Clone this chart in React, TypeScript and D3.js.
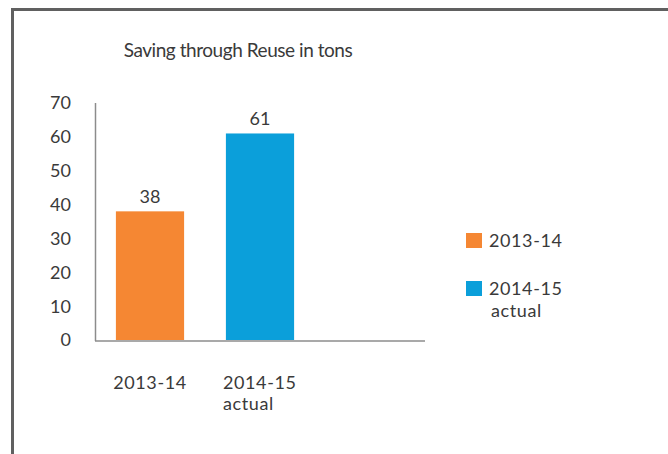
import React from "react";
import * as d3 from "d3";

const categories = ["2013-14", "2014-15 actual", ""];
const values = [38, 61, null];
const colors = ["#F58733", "#0B9FDA"];
const legendLabels = [["2013-14"], ["2014-15", "actual"]];
const xLabels = [["2013-14"], ["2014-15", "actual"], []];
const yTicks = [0, 10, 20, 30, 40, 50, 60, 70];
const title = "Saving through Reuse in tons";

const W = 668;
const H = 454;
const FONT = "Lato, 'Open Sans', sans-serif";
const TXT = "#3a3a3a";

export default function App() {
  const x = d3.scaleBand<string>().domain(categories).range([95, 425]).paddingInner(0.38).paddingOuter(0.19);
  const y = d3.scaleLinear().domain([0, 70]).range([340, 103]);
  return (
    <svg width={W} height={H} style={{ position: "absolute", left: 0, top: 0 }}>
      <rect x={0} y={0} width={W} height={H} fill="#fff" />
      <path d={`M12.5,${H + 5}V9.5H${W + 5}`} fill="none" stroke="#606060" strokeWidth={3} />
      <text x={238} y={57} textAnchor="middle" fontFamily={FONT} fontSize={19} fill={TXT} letterSpacing={-0.45}>{title}</text>
      {yTicks.map((t) => (
        <text key={t} x={71} y={y(t)} dy="0.36em" textAnchor="end" fontFamily={FONT} fontSize={18} fill={TXT}>{t}</text>
      ))}
      {categories.map((c, i) => {
        const v = values[i];
        if (v == null) return null;
        const bx = x(c)!;
        return (
          <g key={c}>
            <rect x={bx} y={y(v)} width={x.bandwidth()} height={y(0) - y(v)} fill={colors[i]} />
            <text x={bx + x.bandwidth() / 2} y={y(v) - 8} textAnchor="middle" fontFamily={FONT} fontSize={18} fill={TXT}>{v}</text>
          </g>
        );
      })}
      <line x1={95.5} x2={95.5} y1={103} y2={341} stroke="#8c8c8c" strokeWidth={1.5} />
      <line x1={95} x2={425} y1={341} y2={341} stroke="#8c8c8c" strokeWidth={1.5} />
      {categories.map((c, i) => {
        const lines = xLabels[i];
        if (!lines.length) return null;
        const cx = x(c)! + x.bandwidth() / 2;
        const multi = lines.length > 1;
        return (
          <text key={c} x={multi ? cx - 37 : cx} y={389} textAnchor={multi ? "start" : "middle"} fontFamily={FONT} fontSize={18} fill={TXT} letterSpacing={0.6}>
            {lines.map((l, j) => (
              <tspan key={j} x={multi ? cx - 37 : cx} dy={j === 0 ? 0 : 21}>{l}</tspan>
            ))}
          </text>
        );
      })}
      {legendLabels.map((lines, i) => {
        const ly = 233 + i * 48;
        return (
          <g key={i}>
            <rect x={466} y={ly} width={16} height={15} fill={colors[i]} />
            <text x={490} y={ly + 14} fontFamily={FONT} fontSize={18} fill={TXT} letterSpacing={0.6}>
              {lines.map((l, j) => (
                <tspan key={j} x={j === 0 ? 489 : 491} dy={j === 0 ? 0 : 22}>{l}</tspan>
              ))}
            </text>
          </g>
        );
      })}
    </svg>
  );
}
